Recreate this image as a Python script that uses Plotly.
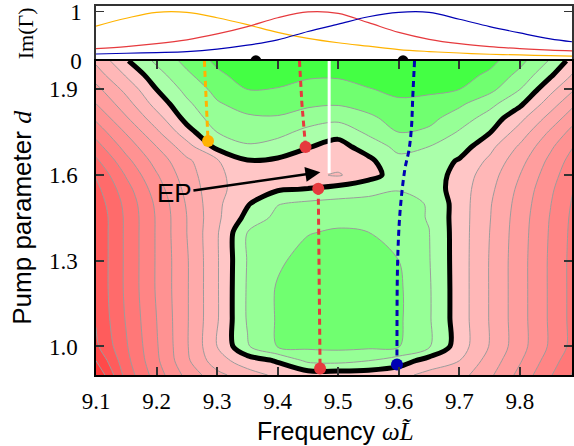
import plotly.graph_objects as go

# ---------------- data ----------------
freq_grid = [9.10, 9.15, 9.20, 9.25, 9.30, 9.35, 9.40, 9.45, 9.50, 9.55,
             9.60, 9.65, 9.70, 9.75, 9.80, 9.85, 9.90]
pump_grid = [0.90, 0.95, 1.00, 1.10, 1.20, 1.30, 1.40, 1.45, 1.50, 1.55,
             1.60, 1.65, 1.70, 1.75, 1.80, 1.85, 1.90, 1.95, 2.00]
# estimated gain-like field (rows follow pump_grid, columns follow freq_grid)
gain = [
    [-11.0, -7.6, -5.5, -3.7, -2.3, -1.4, -0.8, -0.5, -0.5, -0.5, -0.7, -1.3, -1.6, -2.8, -4.3, -5.9, -7.5],
    [-10.0, -7.3, -5.2, -3.2, -1.4, -0.5, 0.1, 1.2, 1.3, 1.0, 0.5, -0.4, -1.0, -2.4, -3.9, -5.5, -7.1],
    [-9.2, -7.1, -5.1, -3.1, -1.0, 0.9, 2.05, 2.2, 2.25, 2.2, 2.05, 1.1, -0.5, -2.05, -3.6, -5.15, -6.7],
    [-8.9, -6.9, -5.0, -3.1, -1.1, 1.1, 2.1, 2.5, 2.6, 2.55, 2.15, 1.1, -0.5, -2.05, -3.6, -5.15, -6.7],
    [-8.8, -6.8, -4.9, -3.1, -1.1, 1.1, 2.1, 2.5, 2.6, 2.55, 2.15, 1.1, -0.5, -2.05, -3.6, -5.15, -6.7],
    [-8.8, -6.8, -4.9, -3.1, -1.1, 1.05, 1.85, 2.35, 2.5, 2.4, 2.0, 1.05, -0.5, -2.05, -3.6, -5.15, -6.7],
    [-8.8, -6.8, -4.9, -3.0, -1.1, 1.0, 1.55, 1.95, 2.1, 2.0, 1.65, 1.02, -0.5, -2.0, -3.55, -5.1, -6.65],
    [-8.8, -6.8, -4.9, -3.0, -1.2, 0.3, 1.3, 1.6, 1.75, 1.65, 1.35, 0.95, -0.5, -1.95, -3.5, -5.05, -6.6],
    [-8.6, -6.7, -4.8, -2.9, -1.2, -0.1, 0.95, 1.2, 1.3, 1.25, 1.15, 0.97, -0.5, -1.9, -3.4, -4.95, -6.5],
    [-8.3, -6.4, -4.5, -2.7, -1.2, -0.6, -0.1, 0.05, 0.4, 0.75, 0.98, 0.6, -0.5, -1.75, -3.25, -4.8, -6.35],
    [-7.9, -5.9, -4.1, -2.45, -1.2, -0.5, -0.6, -0.8, -1.1, -0.4, 0.5, 0.6, -0.4, -1.55, -3.0, -4.55, -6.1],
    [-7.2, -5.3, -3.6, -2.2, -1.1, -0.05, -0.15, -0.4, -0.6, -0.2, 0.7, 0.6, -0.1, -1.2, -2.65, -4.25, -5.8],
    [-6.4, -4.6, -3.0, -1.4, 0.3, 0.9, 0.6, 0.05, -0.3, 0.4, 1.3, 1.0, 0.5, -0.7, -2.15, -3.8, -5.35],
    [-5.6, -3.9, -2.2, -0.4, 1.0, 1.4, 1.3, 0.7, 0.3, 1.2, 2.0, 1.8, 0.9, 0.05, -1.45, -3.15, -4.75],
    [-4.8, -3.1, -1.4, 0.35, 1.5, 1.85, 1.9, 1.5, 1.3, 1.8, 2.4, 2.3, 1.5, 0.6, -0.7, -2.35, -4.0],
    [-4.0, -2.4, -0.6, 0.8, 1.9, 2.4, 2.5, 2.2, 2.1, 2.4, 2.85, 2.75, 2.2, 1.3, 0.2, -1.5, -3.2],
    [-3.3, -1.7, 0.0, 1.3, 2.3, 3.0, 2.95, 2.75, 2.7, 2.95, 3.2, 3.15, 3.0, 2.3, 1.0, -0.7, -2.3],
    [-2.5, -0.9, 0.6, 1.8, 2.8, 3.4, 3.35, 3.1, 3.1, 3.35, 3.6, 3.55, 3.4, 2.8, 1.7, 0.15, -1.5],
    [-1.8, -0.1, 1.2, 2.3, 3.2, 3.8, 3.7, 3.4, 3.4, 3.7, 4.0, 3.95, 3.7, 3.3, 2.3, 0.9, -0.8],
]

# top panel: Im(Gamma) of the three modes
im_freq = [9.10, 9.15, 9.20, 9.25, 9.30, 9.35, 9.40, 9.45, 9.50, 9.55,
           9.60, 9.65, 9.70, 9.75, 9.80, 9.85, 9.90]
im_orange = [0.71, 0.87, 0.99, 0.99, 0.88, 0.74, 0.58, 0.46, 0.37, 0.30,
             0.23, 0.19, 0.16, 0.135, 0.12, 0.105, 0.095]
im_red = [0.25, 0.29, 0.35, 0.43, 0.55, 0.70, 0.88, 1.00, 0.97, 0.78,
          0.58, 0.44, 0.35, 0.29, 0.25, 0.22, 0.20]
im_blue = [0.14, 0.155, 0.17, 0.19, 0.24, 0.32, 0.43, 0.60, 0.75, 0.90,
           0.99, 0.99, 0.85, 0.70, 0.57, 0.45, 0.37]
peak_freq = [9.364, 9.607]
peak_im = [0, 0]

# mode trajectories in the bottom panel
orange_x = [9.279, 9.285]
orange_y = [2.00, 1.719]
red_up_x = [9.436, 9.440, 9.446]
red_up_y = [2.00, 1.85, 1.698]
red_low_x = [9.467, 9.470]
red_low_y = [1.552, 0.923]
blue_x = [9.626, 9.623, 9.621, 9.617, 9.610, 9.602, 9.598, 9.597, 9.597]
blue_y = [2.00, 1.87, 1.77, 1.69, 1.62, 1.47, 1.29, 1.00, 0.937]
cut_x = [9.485, 9.485]
cut_y = [2.00, 1.607]

xticks = [9.1, 9.2, 9.3, 9.4, 9.5, 9.6, 9.7, 9.8]
yticks = [1.0, 1.3, 1.6, 1.9]

# ---------------- style ----------------
band_colors = ['#ff2424', '#ff3838', '#ff4a4a', '#ff5c5c', '#ff6b6b', '#ff7878',
               '#ff8585', '#ff9292', '#ff9e9e', '#ffaaaa', '#ffb7b7', '#ffc6c6',
               '#aaffaa', '#96ff96', '#70ff70', '#44ff44']
n = len(band_colors) - 1
colorscale = [[i / n, c] for i, c in enumerate(band_colors)]

ORANGE = '#ffb300'
RED = '#e63a3e'
BLUE = '#0000b4'
SERIF = 'Liberation Serif'
SANS = 'Liberation Sans'

fig = go.Figure()

fig.add_trace(go.Contour(
    x=freq_grid, y=pump_grid, z=gain, xaxis='x2', yaxis='y2',
    autocontour=False,
    contours=dict(start=-11, end=3, size=1, coloring='fill', showlines=True),
    line=dict(color='#9c9c9c', width=1, smoothing=0.9),
    colorscale=colorscale, showscale=False, hoverinfo='skip'))
fig.add_trace(go.Contour(
    x=freq_grid, y=pump_grid, z=gain, xaxis='x2', yaxis='y2',
    autocontour=False,
    contours=dict(start=0, end=0, size=1, coloring='none', showlines=True),
    line=dict(color='black', width=5, smoothing=0.9),
    showscale=False, hoverinfo='skip'))

fig.add_trace(go.Scatter(x=cut_x, y=cut_y, xaxis='x2', yaxis='y2', mode='lines',
                         line=dict(color='white', width=3), hoverinfo='skip'))
fig.add_trace(go.Scatter(x=orange_x, y=orange_y, xaxis='x2', yaxis='y2', mode='lines',
                         line=dict(color=ORANGE, width=3, dash='6px,4px')))
fig.add_trace(go.Scatter(x=red_up_x, y=red_up_y, xaxis='x2', yaxis='y2', mode='lines',
                         line=dict(color=RED, width=3, dash='6px,4px')))
fig.add_trace(go.Scatter(x=red_low_x, y=red_low_y, xaxis='x2', yaxis='y2', mode='lines',
                         line=dict(color=RED, width=3, dash='6px,4px')))
fig.add_trace(go.Scatter(x=blue_x, y=blue_y, xaxis='x2', yaxis='y2', mode='lines',
                         line=dict(color=BLUE, width=3, dash='6px,4px', shape='spline')))
# end points
fig.add_trace(go.Scatter(x=[orange_x[-1]], y=[orange_y[-1]], xaxis='x2', yaxis='y2', mode='markers',
                         marker=dict(color=ORANGE, size=12), cliponaxis=False))
fig.add_trace(go.Scatter(x=[red_up_x[-1], red_low_x[0], red_low_x[-1]],
                         y=[red_up_y[-1], red_low_y[0], red_low_y[-1]],
                         xaxis='x2', yaxis='y2', mode='markers',
                         marker=dict(color=RED, size=12), cliponaxis=False))
fig.add_trace(go.Scatter(x=[blue_x[-1]], y=[blue_y[-1]], xaxis='x2', yaxis='y2', mode='markers',
                         marker=dict(color=BLUE, size=12), cliponaxis=False))

# top panel
fig.add_trace(go.Scatter(x=im_freq, y=im_orange, mode='lines',
                         line=dict(color=ORANGE, width=1.2, shape='spline')))
fig.add_trace(go.Scatter(x=im_freq, y=im_red, mode='lines',
                         line=dict(color=RED, width=1.2, shape='spline')))
fig.add_trace(go.Scatter(x=im_freq, y=im_blue, mode='lines',
                         line=dict(color=BLUE, width=1.2, shape='spline')))
fig.add_trace(go.Scatter(x=peak_freq, y=peak_im, mode='markers',
                         marker=dict(color='black', size=11), cliponaxis=False))

xr = [9.1, 9.886]
split = 315 / 370
tickfont = dict(family=SERIF, size=23, color='black')

fig.update_layout(
    width=574, height=446,
    margin=dict(l=96, r=0, t=5, b=71),
    paper_bgcolor='white', plot_bgcolor='white',
    showlegend=False,
    xaxis=dict(domain=[0, 1], anchor='y', range=xr, showticklabels=False,
               ticks='', showline=True, linecolor='#333', linewidth=1.5, mirror=True,
               showgrid=False, zeroline=False),
    yaxis=dict(domain=[split, 1], anchor='x', range=[0, 1.12], tickvals=[0, 1],
               ticktext=['0', '1'], ticks='inside', ticklen=8, tickcolor='#333',
               showline=True, linecolor='#333', linewidth=1.5, mirror='ticks',
               showgrid=False, zeroline=False, tickfont=tickfont, ticklabelstandoff=8,
               ticklabeloverflow='allow'),
    xaxis2=dict(domain=[0, 1], anchor='y2', range=xr, tickvals=xticks,
                ticktext=['9.1', '9.2', '9.3', '9.4', '9.5', '9.6', '9.7', '9.8'],
                ticks='inside', ticklen=8, tickwidth=1.5, tickcolor='#333',
                showline=True, linecolor='black', linewidth=1.5, mirror='ticks',
                showgrid=False, zeroline=False, tickfont=tickfont, ticklabelstandoff=5,
                ticklabeloverflow='allow'),
    yaxis2=dict(domain=[0, split], anchor='x2', range=[0.9, 2.0], tickvals=yticks,
                ticktext=['1.0', '1.3', '1.6', '1.9'],
                ticks='inside', ticklen=8, tickwidth=1.5, tickcolor='#333',
                showline=True, linecolor='black', linewidth=1.5, mirror='ticks',
                showgrid=False, zeroline=False, tickfont=tickfont, ticklabelstandoff=12,
                ticklabeloverflow='allow'),
    annotations=[
        dict(x=9.4705, y=1.6098, xref='x2', yref='y2', ax=9.2295, ay=1.5366,
             axref='x2', ayref='y2', text='EP', showarrow=True, arrowhead=2,
             arrowsize=1.2, arrowwidth=2.5, arrowcolor='black',
             font=dict(family=SANS, size=26, color='black')),
        dict(x=(22 - 96) / 478, y=0.427, xref='paper', yref='paper', textangle=-90,
             showarrow=False, xanchor='center', yanchor='middle',
             text='Pump parameter <span style="font-family:Liberation Serif"><i>d</i></span>',
             font=dict(family=SANS, size=26, color='black')),
        dict(x=(26 - 96) / 478, y=(375 - 32) / 370, xref='paper', yref='paper', textangle=-90,
             showarrow=False, xanchor='center', yanchor='middle',
             text='Im(Γ)', font=dict(family=SERIF, size=22, color='black')),
        dict(x=0.504, y=(375 - 431) / 370, xref='paper', yref='paper',
             showarrow=False, xanchor='center', yanchor='middle',
             text='Frequency <span style="font-family:Liberation Serif"><i>ωL̃</i></span>',
             font=dict(family=SANS, size=25, color='black')),
    ],
)

fig.write_html('out.html', config={'displayModeBar': False},
               post_script="document.body.style.margin='0px';")
